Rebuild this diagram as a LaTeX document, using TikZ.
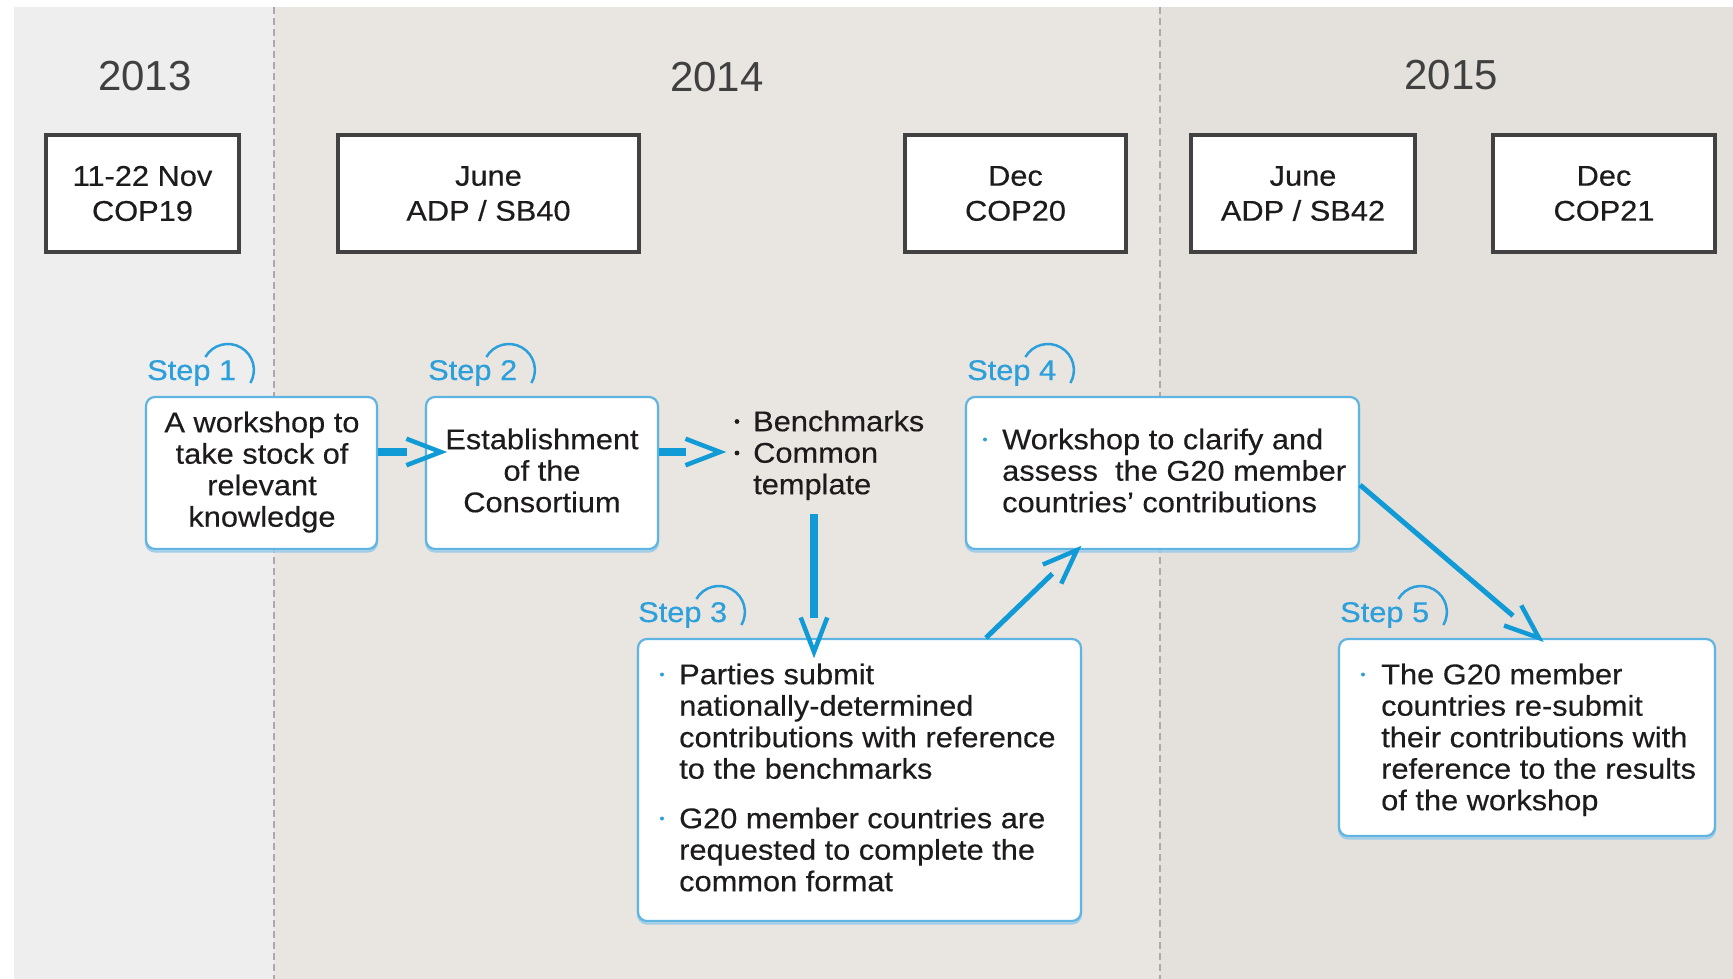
\documentclass[tikz,border=0pt]{standalone}
\usepackage{fontspec}
\setmainfont{Liberation Sans}[FakeStretch=1.08, FakeBold=0.35]
\newfontfamily\yearfont{Liberation Sans}
\usetikzlibrary{calc}

\definecolor{p13}{RGB}{239,238,238}
\definecolor{p14}{RGB}{233,230,226}
\definecolor{p15}{RGB}{228,225,220}
\definecolor{dashgray}{RGB}{170,170,170}
\definecolor{datebord}{RGB}{66,66,66}
\definecolor{txt}{RGB}{30,27,28}
\definecolor{yeartxt}{RGB}{64,64,64}
\definecolor{arrowblue}{RGB}{16,154,214}
\definecolor{stepblue}{RGB}{45,160,220}
\definecolor{boxblue}{RGB}{95,180,225}
\definecolor{shadowblue}{RGB}{160,205,232}

\newcommand\bdfont{\fontsize{28.5}{31.5}\selectfont}
\newcommand\dtfont{\fontsize{28.5}{35}\selectfont}
\newcommand\yrfont{\yearfont\fontsize{42}{46}\selectfont}
\newcommand\firstst{\rule{0pt}{22pt}}
\newcommand\chevarrow[3]{%
  \draw[#1] (#2) -- ($(#3)!34pt!(#2)$);
  \draw[chev] ($(#3)!37pt!21:(#2)$) -- (#3) -- ($(#3)!37pt!-21:(#2)$);
}

\begin{document}
\begin{tikzpicture}[x=1pt, y=-1pt,
  datebox/.style={draw=datebord, line width=4pt, fill=white, inner sep=0pt, align=center, font=\dtfont, text=txt},
  stepbox/.style={draw=boxblue, line width=2.2pt, fill=white, rounded corners=9pt, inner sep=0pt,
    preaction={draw=shadowblue, line width=2.2pt, transform canvas={yshift=-2.5pt}}},
  bodytxt/.style={inner sep=0pt, font=\bdfont, text=txt},
  steplbl/.style={inner sep=0pt, font=\bdfont, text=stepblue, anchor=base west},
  steparc/.style={draw=stepblue, line width=2.5pt},
  yearlbl/.style={inner sep=0pt, font=\yrfont, text=yeartxt, anchor=base},
  bar/.style={draw=arrowblue, line width=8pt},
  dbar/.style={draw=arrowblue, line width=5pt},
  chev/.style={draw=arrowblue, line width=4.5pt, line join=miter},
  bluedot/.style={fill=stepblue, draw=none},
  blackdot/.style={fill=txt, draw=none},
  dashline/.style={draw=dashgray, line width=1.2pt, dash pattern=on 7pt off 4pt},
]
\useasboundingbox (0,0) rectangle (1733,979);
\fill[white] (0,0) rectangle (1733,979);

% year panels
\fill[p13] (14,7) rectangle (274,979);
\fill[p14] (274,7) rectangle (1160,979);
\fill[p15] (1160,7) rectangle (1733,979);
\draw[dashline] (274,7) -- (274,979);
\draw[dashline] (1160,7) -- (1160,979);

% years
\node[yearlbl] (y13) at (145,91) {2013};
\node[yearlbl] (y14) at (717,92) {2014};
\node[yearlbl] (y15) at (1451,90) {2015};

% date boxes
\node[datebox, minimum width=193pt, minimum height=117pt] (d1) at (142.5,193.5) {11-22 Nov\\COP19};
\node[datebox, minimum width=301pt, minimum height=117pt] (d2) at (488.5,193.5) {June\\ADP / SB40};
\node[datebox, minimum width=221pt, minimum height=117pt] (d3) at (1015.5,193.5) {Dec\\COP20};
\node[datebox, minimum width=224pt, minimum height=117pt] (d4) at (1303,193.5) {June\\ADP / SB42};
\node[datebox, minimum width=222pt, minimum height=117pt] (d5) at (1604,193.5) {Dec\\COP21};

% step boxes
\node[stepbox, minimum width=231pt, minimum height=152pt] (s1) at (261.5,473) {};
\node[stepbox, minimum width=232pt, minimum height=152pt] (s2) at (542,473) {};
\node[stepbox, minimum width=393pt, minimum height=152pt] (s4) at (1162.5,473) {};
\node[stepbox, minimum width=443pt, minimum height=282pt] (s3) at (859.5,780) {};
\node[stepbox, minimum width=376pt, minimum height=197pt] (s5) at (1527,737.5) {};

% step box texts
\node[bodytxt, align=center, anchor=north] (t1) at (262,410) {\firstst A workshop to\\take stock of\\relevant\\knowledge};
\node[bodytxt, align=center, anchor=north] (t2) at (542,427) {\firstst Establishment\\of the\\Consortium};
\node[bodytxt, align=left, anchor=north west] (t4) at (1002,427) {\firstst Workshop to clarify and\\assess~ the G20 member\\countries’ contributions};
\node[bodytxt, align=left, anchor=north west] (t3a) at (679,662) {\firstst Parties submit\\nationally-determined\\contributions with reference\\to the benchmarks};
\node[bodytxt, align=left, anchor=north west] (t3b) at (679,806) {\firstst G20 member countries are\\requested to complete the\\common format};
\node[bodytxt, align=left, anchor=north west] (t5) at (1381,662) {\firstst The G20 member\\countries re-submit\\their contributions with\\reference to the results\\of the workshop};
\node[bodytxt, align=left, anchor=north west] (bench) at (753,409) {\firstst Benchmarks\\Common\\template};

% bullets
\fill[bluedot] (985,439.5) circle[radius=2];
\fill[bluedot] (662,674.5) circle[radius=2];
\fill[bluedot] (662,818.5) circle[radius=2];
\fill[bluedot] (1363,674.5) circle[radius=2];
\fill[blackdot] (737,421.5) circle[radius=2.4];
\fill[blackdot] (737,453) circle[radius=2.4];

% step labels
\node[steplbl] (l1) at (147,380) {Step 1};
\node[steplbl] (l2) at (428,380) {Step 2};
\node[steplbl] (l4) at (967,380) {Step 4};
\node[steplbl] (l3) at (638,622) {Step 3};
\node[steplbl] (l5) at (1340,622) {Step 5};
\foreach \l in {l1,l2,l3,l4,l5}{
  \draw[steparc] ($(\l.base east)+(-8.5,-10)+(-150:26)$) arc[start angle=-150, end angle=30, radius=26];
}

% connectors
\coordinate (a1s) at ($(s1.east)+(0,-21)$);
\coordinate (a1e) at ($(s2.west)+(16,-21)$);
\coordinate (a2s) at ($(s2.east)+(0,-21)$);
\coordinate (a2e) at (720,452);
\coordinate (a3s) at (814,514);
\coordinate (a3e) at (814,652);
\coordinate (a4s) at ($(s3.north west)+(349,0)$);
\coordinate (a4e) at ($(s4.south west)+(112,0)$);
\coordinate (a5s) at ($(s4.east)+(0,12)$);
\coordinate (a5e) at ($(s5.north west)+(201,0)$);
\chevarrow{bar}{a1s}{a1e}
\chevarrow{bar}{a2s}{a2e}
\chevarrow{bar}{a3s}{a3e}
\chevarrow{dbar}{a4s}{a4e}
\chevarrow{dbar}{a5s}{a5e}
\end{tikzpicture}
\end{document}
